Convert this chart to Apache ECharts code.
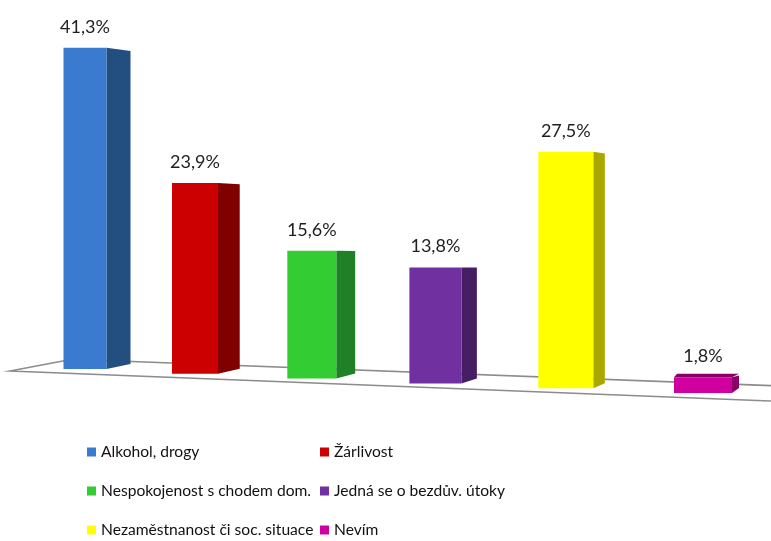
<!DOCTYPE html>
<html><head><meta charset="utf-8">
<script src="https://cdn.jsdelivr.net/npm/echarts@6/dist/echarts.min.js"></script>
<style>html,body{margin:0;padding:0;background:#fff}#c{width:771px;height:541px}</style>
</head><body><div id="c"></div>
<script>
const categories = ['Alkohol, drogy', 'Žárlivost', 'Nespokojenost s chodem dom.', 'Jedná se o bezdův. útoky', 'Nezaměstnanost či soc. situace', 'Nevím'];
const values = [41.3, 23.9, 15.6, 13.8, 27.5, 1.8];
const labels = ['41,3%', '23,9%', '15,6%', '13,8%', '27,5%', '1,8%'];
const frontColors = ['#3a7bd0', '#cc0000', '#33cc33', '#7030a0', '#ffff00', '#d000a0'];
const sideColors = ['#234f80', '#800000', '#208028', '#461e64', '#a8a800', '#880068'];

const chart = echarts.init(document.getElementById('c'), null, {renderer: 'canvas'});

function makeRender(idx) {
  return function (params, api) {
    const i = api.value(0), v = api.value(1);
    const base = api.coord([i, 0]);
    const top = api.coord([i, v]);
    const first = api.coord([0, 0]);
    const last = api.coord([categories.length - 1, 0]);
    const span = last[0] - first[0];
    const t = (base[0] - first[0]) / span;
    // perspective warp
    const xc = base[0] - 0.1375 * span * t * (1 - t);
    const scale = 1 + 0.132 * t;
    const yb = base[1] + 24 * t;
    const h = (base[1] - top[1]) * scale;
    const yT = yb - h;
    const wf = 43 + 15 * t;
    const ws = 24 - 10 * t - 7 * t * t;
    const xl = xc - wf / 2, xr = xc + wf / 2;
    const g = (yT - 266) * 0.03;
    const sideTopR = yT - g * 0.5;
    const children = [];
    children.push({
      type: 'polygon',
      shape: {points: [[xr, yT], [xr + ws, sideTopR], [xr + ws, yb - 5], [xr, yb]]},
      style: {fill: sideColors[idx], stroke: null}
    });
    if (g > 0) {
      children.push({
        type: 'polygon',
        shape: {points: [[xl, yT], [xr, yT], [xr + ws, yT - g], [xl + 3, yT - g]]},
        style: {fill: sideColors[idx], stroke: null}
      });
    }
    children.push({
      type: 'rect',
      shape: {x: xl, y: yT, width: wf, height: yb - yT},
      style: {fill: api.visual('color'), stroke: null}
    });
    children.push({
      type: 'text',
      style: {
        x: xc, y: yT - 12, text: labels[idx], align: 'center', verticalAlign: 'bottom',
        font: '18px Lato', fill: '#1e1e1e'
      }
    });
    return {type: 'group', children: children};
  };
}

const series = categories.map((name, i) => ({
  type: 'custom',
  name: name,
  clip: false,
  itemStyle: {color: frontColors[i]},
  renderItem: makeRender(i),
  data: [[i, values[i]]],
  encode: {x: 0, y: 1}
}));

const legendBase = {
  orient: 'vertical', itemWidth: 9, itemHeight: 9, itemGap: 21, icon: 'rect',
  selectedMode: false, top: 443, padding: 0, height: 98,
  textStyle: {fontFamily: 'Lato', fontSize: 15.6, color: '#111111', lineHeight: 18}
};

chart.setOption({
  animation: false,
  backgroundColor: '#ffffff',
  grid: {left: 23.2, right: 6.2, top: 19, bottom: 172},
  xAxis: {type: 'category', data: categories, show: false, boundaryGap: true},
  yAxis: {type: 'value', min: 0, max: 45, show: false},
  legend: [
    Object.assign({}, legendBase, {left: 87, data: [categories[0], categories[2], categories[4]]}),
    Object.assign({}, legendBase, {left: 320, data: [categories[1], categories[3], categories[5]]})
  ],
  graphic: [{
    type: 'polygon', z: -1, silent: true,
    shape: {points: [[10, 371], [72, 359.3], [833, 388], [770, 401]]},
    style: {fill: null, stroke: '#8c8c8c', lineWidth: 1.6}
  }],
  series: series
});
</script></body></html>
